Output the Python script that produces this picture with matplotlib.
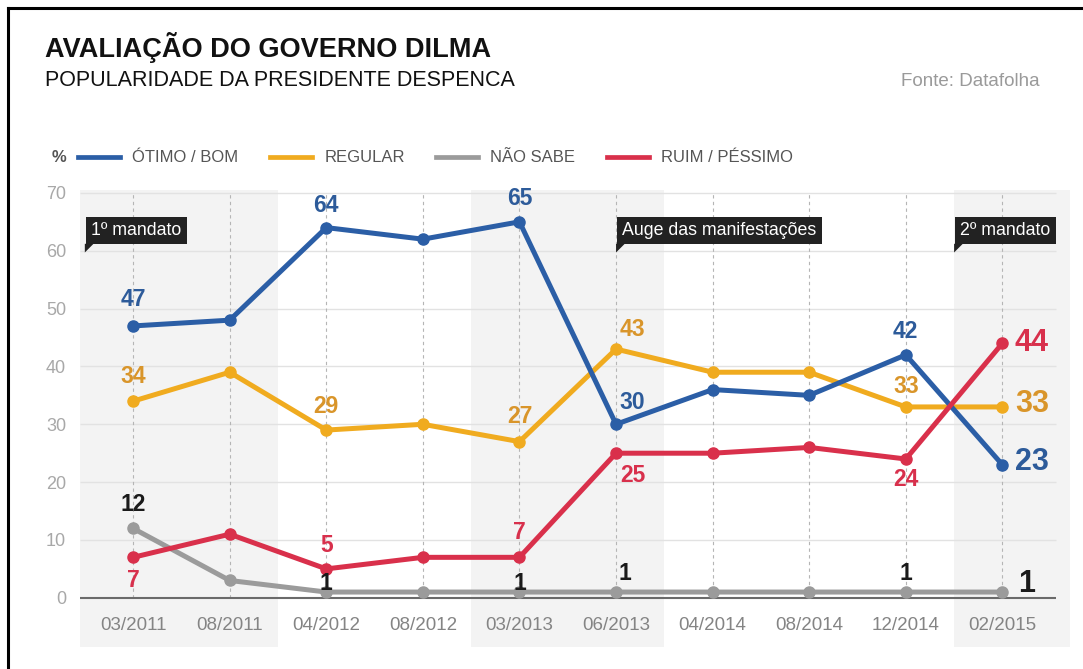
import matplotlib
matplotlib.use('Agg')
import matplotlib.pyplot as plt
from matplotlib import font_manager
from matplotlib.lines import Line2D
from matplotlib.patches import Polygon

# dados - Datafolha
periodos = ['03/2011', '08/2011', '04/2012', '08/2012', '03/2013',
            '06/2013', '04/2014', '08/2014', '12/2014', '02/2015']
anos = ['2011', '2011', '2012', '2012', '2013',
        '2013', '2014', '2014', '2014', '2015']
otimo_bom = [47, 48, 64, 62, 65, 30, 36, 35, 42, 23]
regular = [34, 39, 29, 30, 27, 43, 39, 39, 33, 33]
nao_sabe = [12, 3, 1, 1, 1, 1, 1, 1, 1, 1]
ruim_pessimo = [7, 11, 5, 7, 7, 25, 25, 26, 24, 44]
marcos = [('1º mandato', 0), ('Auge das manifestações', 5), ('2º mandato', 9)]

# fontes (usa a versao estreita se existir)
nomes = {f.name for f in font_manager.fontManager.ttflist}
tem_estreita = 'Liberation Sans Narrow' in nomes
estreita = 'Liberation Sans Narrow' if tem_estreita else 'Liberation Sans'
plt.rcParams['font.family'] = ['Liberation Sans', 'DejaVu Sans']

AZUL, AMARELO, CINZA, VERMELHO = '#2b5ea6', '#f0ab1f', '#9b9b9b', '#d9304b'
cor_rotulo = {AZUL: '#2d5b9a', AMARELO: '#d9952a', CINZA: '#1a1a1a', VERMELHO: '#d8304c'}

W, H = 1083, 669
fig = plt.figure(figsize=(W / 100, H / 100), dpi=100)
ax = fig.add_axes([80 / W, 1 - 647 / H, (1070 - 80) / W, (647 - 190) / H])
ax.set_xlim(-0.55, 9.7)
ax.set_ylim(-8.5, 70.5)
for s in ax.spines.values():
    s.set_visible(False)
ax.set_xticks([])
ax.set_yticks(range(0, 71, 10))
ax.tick_params(axis='y', length=0, pad=10, labelcolor='#a8a8a8', labelsize=13)

x = list(range(len(periodos)))

# faixas por ano (alternadas)
grupos = []
for i, a in enumerate(anos):
    if grupos and grupos[-1][0] == a:
        grupos[-1][2] = i
    else:
        grupos.append([a, i, i])
for k, (a, i0, i1) in enumerate(grupos):
    if k % 2 == 0:
        lo = -0.55 if i0 == 0 else i0 - 0.5
        hi = 9.7 if i1 == len(x) - 1 else i1 + 0.5
        ax.axvspan(lo, hi, color='#f3f3f3', lw=0, zorder=0)

# grade
ax.hlines(range(10, 71, 10), -0.55, 9.55, color='#e2e2e2', lw=1, zorder=1)
ax.vlines(x, 0, 70, color='#b5b5b5', lw=0.8, linestyles=(0, (3, 3)), zorder=1)
ax.hlines(0, -0.55, 9.55, color='#6a6a6a', lw=1.5, zorder=2)

for i, p in enumerate(periodos):
    ax.text(i, -4.8, p, ha='center', va='center', fontsize=15 if tem_estreita else 13.5,
            color='#848484', family=estreita)

# linhas
series = [(nao_sabe, CINZA), (regular, AMARELO), (otimo_bom, AZUL), (ruim_pessimo, VERMELHO)]
z = 3
for vals, cor in series:
    ax.plot(x, vals, color=cor, lw=3.6, marker='o', ms=8, zorder=z,
            solid_joinstyle='round', solid_capstyle='round')
    z += 1


def rotulo(vals, cor, i, dx, dy, grande=False):
    ax.annotate(str(vals[i]), (i, vals[i]), xytext=(dx, dy), textcoords='offset points',
                ha='left' if grande else 'center', va='center',
                fontsize=22 if grande else 16.5, fontweight='bold',
                color=cor_rotulo[cor], zorder=10)


for i, dx, dy in [(0, 0, 19), (2, 0, 16), (4, 0, 17), (5, 12, 16), (8, 0, 17)]:
    rotulo(otimo_bom, AZUL, i, dx, dy)
rotulo(otimo_bom, AZUL, 9, 9, 2, True)
for i, dx, dy in [(0, 0, 18), (2, 0, 17), (4, 0, 18), (5, 12, 14), (8, 0, 15)]:
    rotulo(regular, AMARELO, i, dx, dy)
rotulo(regular, AMARELO, 9, 9, 2, True)
for i, dx, dy in [(0, 0, 17), (2, 0, 6), (4, 0, 6), (5, 6, 13), (8, 0, 13)]:
    rotulo(nao_sabe, CINZA, i, dx, dy)
rotulo(nao_sabe, CINZA, 9, 11, 6, True)
for i, dx, dy in [(0, 0, -17), (2, 0, 17), (4, 0, 18), (5, 12, -16), (8, 0, -15)]:
    rotulo(ruim_pessimo, VERMELHO, i, dx, dy)
rotulo(ruim_pessimo, VERMELHO, 9, 9, 0, True)

# caixas de marcos
for texto, i in marcos:
    xe = -0.5 if i == 0 else (i if texto.startswith('Auge') else i - 0.5)
    ax.annotate(texto, (xe, 63.5), xytext=(4.5, 0), textcoords='offset points',
                ha='left', va='center', color='white', fontsize=12.8, zorder=12,
                bbox=dict(boxstyle='square,pad=0.3', fc='#222222', ec='none'))
    ax.add_patch(Polygon([[xe, 61.2], [xe + 0.09, 61.2], [xe, 59.7]], closed=True,
                         fc='#222222', ec='none', zorder=12))

# titulos
fig.text(45 / W, 1 - 57 / H, 'AVALIAÇÃO DO GOVERNO DILMA',
         fontsize=23 if tem_estreita else 19.5,
         fontweight='bold', family=estreita, va='baseline', color='#111111')
fig.text(45 / W, 1 - 86 / H, 'POPULARIDADE DA PRESIDENTE DESPENCA',
         fontsize=18 if tem_estreita else 15.5,
         family=estreita, va='baseline', color='#111111')
fig.text(1040 / W, 1 - 86 / H, 'Fonte: Datafolha', fontsize=13.5, color='#9a9a9a',
         ha='right', va='baseline')

# legenda
fig.text(52 / W, 1 - 158 / H, '%', fontsize=12, fontweight='bold', color='#555555',
         va='center')
alcas = [Line2D([], [], color=c, lw=3.4) for c in [AZUL, AMARELO, CINZA, VERMELHO]]
fig.legend(alcas, ['ÓTIMO / BOM', 'REGULAR', 'NÃO SABE', 'RUIM / PÉSSIMO'],
           loc='center left', bbox_to_anchor=(78 / W, 1 - 158 / H), ncol=4,
           frameon=False, fontsize=12, labelcolor='#555555', handlelength=2.5,
           handletextpad=0.75, columnspacing=1.9, borderpad=0, borderaxespad=0)

# moldura
fig.add_artist(Line2D([8 / W, 8 / W], [0, 1 - 8 / H], color='black', lw=2.2))
fig.add_artist(Line2D([8 / W, 1], [1 - 8 / H, 1 - 8 / H], color='black', lw=2.2))

plt.savefig('out.png', dpi=100)
